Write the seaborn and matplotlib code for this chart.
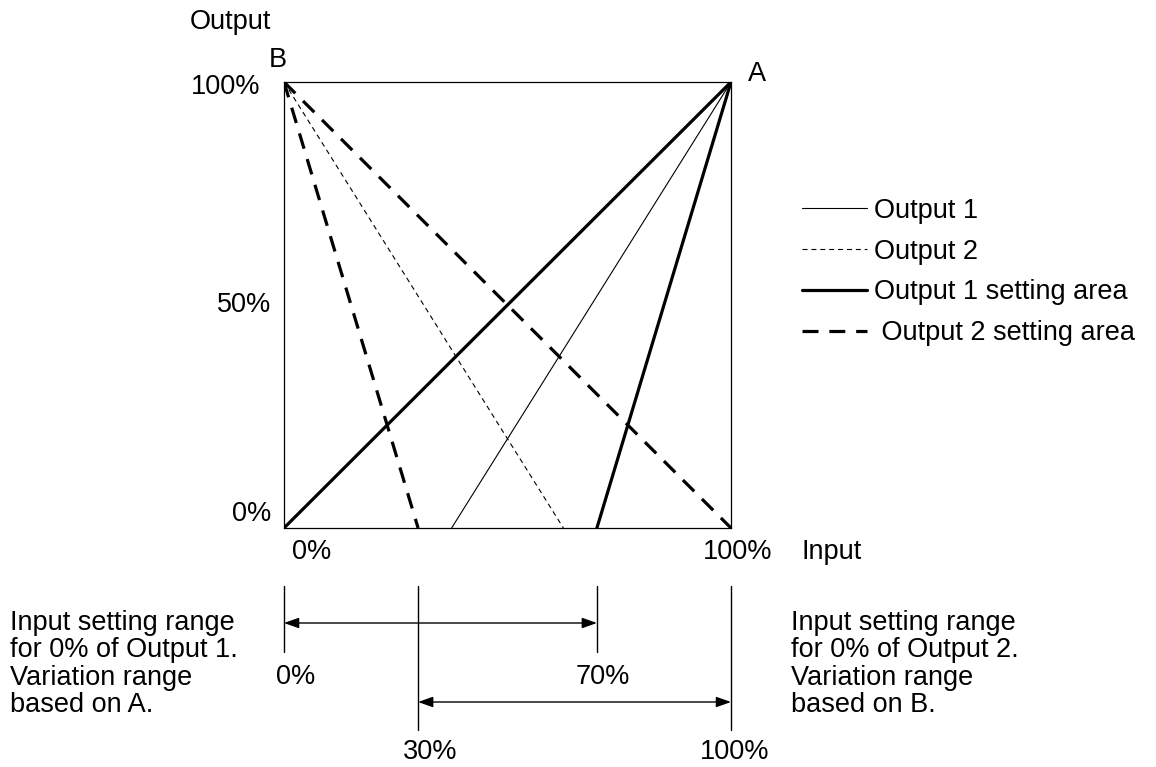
import pandas as pd
import seaborn as sns
import matplotlib.pyplot as plt
from matplotlib.lines import Line2D

# Input (%) where each line reaches 0% output
out1_zero = 37.5            # Output 1 (through A)
out2_zero = 62.5            # Output 2 (through B)
out1_area = [0, 70]         # Output 1 setting area limits (through A)
out2_area = [30, 100]       # Output 2 setting area limits (through B)
bracket_ticks = [0, 30, 70, 100]
bracket_labels = ["0%", "30%", "70%", "100%"]
series_names = ["Output 1", "Output 2", "Output 1 setting area", "Output 2 setting area"]

W, H = 1156, 767

# build line segments: through A = (100,100), through B = (0,100)
rows = []
def seg_a(name, z, k):
    rows.append((name, k, z, 0))
    rows.append((name, k, 100, 100))
def seg_b(name, z, k):
    rows.append((name, k, 0, 100))
    rows.append((name, k, z, 0))

seg_a(series_names[0], out1_zero, 0)
seg_b(series_names[1], out2_zero, 0)
for i, z in enumerate(out1_area):
    seg_a(series_names[2], z, i)
for i, z in enumerate(out2_area):
    seg_b(series_names[3], z, i)
df = pd.DataFrame(rows, columns=["serie", "seg", "x", "y"])

styles = {
    series_names[0]: dict(lw=0.8, ls="-"),
    series_names[1]: dict(lw=0.8, ls=(0, (4.5, 3.5))),
    series_names[2]: dict(lw=2.3, ls="-"),
    series_names[3]: dict(lw=2.3, ls=(0, (5.0, 3.4))),
}

sns.set_style("white")
plt.rcParams["font.family"] = ["Liberation Sans", "DejaVu Sans"]
plt.rcParams["text.color"] = "black"
FS = 19.5

fig = plt.figure(figsize=(W / 100, H / 100), dpi=100)
ax = fig.add_axes([284 / W, 1 - 528 / H, 447 / W, 446 / H])
ax.set_xlim(0, 100)
ax.set_ylim(0, 100)

for name in series_names:
    st = styles[name]
    sns.lineplot(data=df[df["serie"] == name], x="x", y="y", units="seg",
                 estimator=None, sort=False, color="black",
                 linewidth=st["lw"], linestyle=st["ls"], ax=ax, legend=False)

ax.set_xticks([])
ax.set_yticks([])
ax.set_xlabel("")
ax.set_ylabel("")
for s in ax.spines.values():
    s.set_visible(True)
    s.set_color("black")
    s.set_linewidth(0.9)

# brackets below the chart (data x, y below 0)
ypx = 446 / 100  # pixels per unit
def yd(p):
    return (528 - p) / ypx

short_bot, long_bot = yd(652), yd(730)
top = yd(586)
for t in bracket_ticks:
    bot = short_bot if t in (0, 70) else long_bot
    ax.plot([t, t], [top, bot], color="black", lw=1.0, clip_on=False)

arrow = dict(arrowstyle="<|-|>,head_length=0.45,head_width=0.16",
             color="black", lw=1.0, shrinkA=0, shrinkB=0, mutation_scale=20)
ax.annotate("", xy=(out1_area[0], yd(623)), xytext=(out1_area[1], yd(623)),
            arrowprops=arrow, annotation_clip=False)
ax.annotate("", xy=(out2_area[0], yd(702)), xytext=(out2_area[1], yd(702)),
            arrowprops=arrow, annotation_clip=False)

def txt(x, y, s, ha="center", **kw):
    fig.text(x / W, 1 - y / H, s, ha=ha, va="center", fontsize=FS,
             color="black", **kw)

txt(190, 22, "Output", ha="left")
txt(278, 60, "B")
txt(757, 74, "A")
txt(260, 87, "100%", ha="right")
txt(271, 305, "50%", ha="right")
txt(271, 514, "0%", ha="right")
txt(292, 552, "0%", ha="left")
txt(738, 552, "100%")
txt(802, 552, "Input", ha="left")

txt(296, 677, bracket_labels[0])
txt(430, 752, bracket_labels[1])
txt(603, 677, bracket_labels[2])
txt(735, 752, bracket_labels[3])

txt(10, 664, "Input setting range\nfor 0% of Output 1.\nVariation range\nbased on A.",
    ha="left", linespacing=1.08)
txt(791, 664, "Input setting range\nfor 0% of Output 2.\nVariation range\nbased on B.",
    ha="left", linespacing=1.08)

handles = [Line2D([], [], color="black", linewidth=styles[n]["lw"],
                  linestyle=styles[n]["ls"]) for n in series_names]
labels = series_names[:3] + [" " + series_names[3]]
leg = fig.legend(handles, labels, loc="center left",
                 bbox_to_anchor=(802 / W, 1 - 272 / H), bbox_transform=fig.transFigure,
                 frameon=False, fontsize=FS, handlelength=2.4, handletextpad=0.25,
                 labelspacing=0.55, borderpad=0, borderaxespad=0)
for t in leg.get_texts():
    t.set_color("black")

fig.savefig("out.png", dpi=100)
